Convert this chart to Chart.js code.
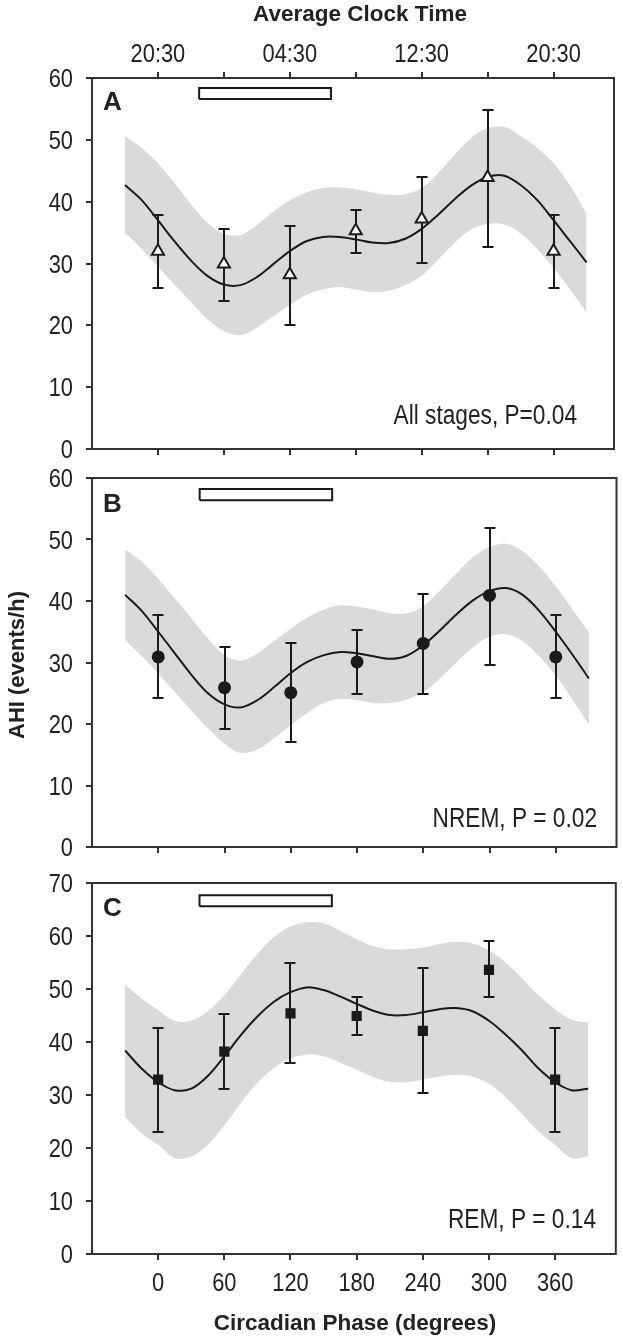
<!DOCTYPE html>
<html><head><meta charset="utf-8">
<script src="https://cdn.jsdelivr.net/npm/chart.js@4.4.1/dist/chart.umd.min.js"></script>
<style>
html,body{margin:0;padding:0;background:#fff;}
body{width:623px;height:1340px;position:relative;overflow:hidden;}
canvas{position:absolute;left:0;}
</style></head><body>
<canvas id="cA" style="top:0px"></canvas>
<canvas id="cB" style="top:460px"></canvas>
<canvas id="cC" style="top:870px"></canvas>
<script>
// ---------- data ----------
const phaseDeg = [0, 60, 120, 180, 240, 300, 360];
const phaseLabels = ['0', '60', '120', '180', '240', '300', '360'];
const clockLabels = ['20:30', '', '04:30', '', '12:30', '', '20:30'];

const allMean = [32.0, 29.9, 28.2, 35.3, 37.2, 43.9, 32.0];
const allLow  = [26.0, 23.9, 20.0, 31.7, 30.1, 32.6, 26.0];
const allHigh = [37.8, 35.6, 36.1, 38.6, 44.0, 54.8, 37.8];

const nremMean = [30.9, 25.9, 25.1, 30.1, 33.1, 40.9, 30.9];
const nremLow  = [24.2, 19.2, 17.0, 24.9, 24.9, 29.6, 24.2];
const nremHigh = [37.7, 32.5, 33.2, 35.3, 41.2, 51.9, 37.7];

const remMean = [32.9, 38.2, 45.4, 44.9, 42.1, 53.6, 32.9];
const remLow  = [23.1, 31.1, 36.0, 41.3, 30.3, 48.5, 23.1];
const remHigh = [42.7, 45.2, 55.0, 48.4, 54.0, 59.1, 42.7];

const fitPhase = [-30, -15, 0, 15, 30, 45, 60, 75, 90, 105, 120, 135, 150, 165, 180, 195, 210, 225, 240, 255, 270, 285, 300, 315, 330, 345, 360, 375, 390];

const allFit   = [42.7, 40.3, 37.0, 33.6, 30.5, 28.0, 26.6, 26.5, 27.8, 29.9, 32.0, 33.6, 34.3, 34.3, 33.9, 33.4, 33.3, 34.0, 35.6, 37.9, 40.4, 42.6, 44.0, 44.2, 42.7, 40.3, 37.0, 33.6, 30.2];
const allUpper = [50.6, 48.7, 46.2, 43.0, 39.6, 36.6, 34.8, 34.6, 36.2, 38.4, 40.2, 41.5, 42.2, 42.3, 42.0, 41.5, 41.1, 41.2, 42.2, 44.6, 47.6, 50.3, 51.9, 52.1, 50.6, 48.7, 46.2, 42.6, 38.0];
const allLower = [35.0, 32.4, 29.5, 26.6, 23.8, 21.0, 19.1, 18.4, 19.6, 21.5, 23.3, 24.9, 25.8, 26.2, 25.8, 25.4, 25.6, 26.5, 28.0, 30.6, 33.3, 35.5, 36.4, 36.3, 34.9, 32.4, 29.3, 25.8, 22.1];

const nremFit   = [41.0, 38.4, 35.0, 31.5, 28.0, 25.0, 23.2, 22.7, 23.9, 26.0, 28.3, 30.1, 31.2, 31.7, 31.5, 31.0, 30.6, 31.1, 32.8, 35.2, 37.8, 40.1, 41.6, 42.1, 41.0, 38.4, 35.0, 31.3, 27.4];
const nremUpper = [48.4, 46.4, 43.6, 40.4, 37.2, 33.9, 31.2, 30.3, 31.5, 33.5, 35.5, 37.3, 38.6, 39.3, 39.1, 38.6, 38.0, 38.0, 39.2, 41.7, 44.5, 47.1, 48.8, 49.3, 48.1, 45.6, 42.4, 38.7, 34.9];
const nremLower = [33.6, 31.0, 28.2, 25.2, 22.2, 19.3, 16.8, 15.3, 15.9, 17.7, 19.8, 21.8, 23.4, 24.1, 23.9, 23.4, 23.4, 24.0, 25.2, 27.4, 30.0, 32.5, 34.2, 34.6, 33.5, 31.0, 27.9, 24.0, 19.9];

const remFit   = [38.4, 35.0, 32.4, 30.9, 31.2, 33.6, 37.3, 41.3, 44.8, 47.6, 49.4, 50.3, 49.8, 48.6, 47.2, 45.9, 45.1, 45.1, 45.6, 46.2, 46.4, 45.8, 44.0, 41.4, 38.4, 35.0, 32.4, 30.9, 31.2];
const remUpper = [50.8, 48.2, 46.0, 44.0, 44.0, 45.8, 48.8, 52.8, 56.6, 59.8, 61.8, 62.6, 62.4, 61.0, 59.4, 58.1, 57.5, 57.5, 57.8, 58.5, 58.9, 58.6, 57.3, 55.0, 52.0, 48.8, 46.2, 44.2, 43.7];
const remLower = [25.8, 22.8, 20.6, 18.1, 18.4, 20.6, 24.3, 28.5, 32.3, 35.1, 36.9, 37.6, 37.3, 36.1, 34.8, 33.4, 32.5, 32.4, 32.9, 33.5, 33.8, 33.5, 32.1, 29.6, 26.4, 23.1, 20.6, 18.1, 18.4];

const sleepPhase = [37.5, 157.5];   // 23:00 - 07:00
const sleepBarA = [56.6, 58.4];
const sleepBarB = [56.4, 58.2];
const sleepBarC = [65.6, 67.7];

const yTicksAB = [0, 10, 20, 30, 40, 50, 60];
const yTicksC = [0, 10, 20, 30, 40, 50, 60, 70];

// ---------- style ----------
const BAND = '#d9dadc', INK = '#1a1a1a', AXIS = '#333333', TXT = '#222222';
const SANS = "'Liberation Sans',Arial,sans-serif";
const NARROW_X = 0.84;   // horizontal condensing of the narrow face

const toXY = (xs, ys) => xs.map((x, i) => ({x: x, y: ys[i]}));
const rectXY = (xr, yr) => [
  {x: xr[0], y: yr[0]}, {x: xr[1], y: yr[0]}, {x: xr[1], y: yr[1]}, {x: xr[0], y: yr[1]}, {x: xr[0], y: yr[0]}
];

function drawText(c, t) {
  c.save();
  c.fillStyle = TXT;
  c.font = t.font;
  c.textAlign = t.align || 'left';
  c.textBaseline = 'alphabetic';
  c.translate(t.x, t.y);
  if (t.rot) c.rotate(t.rot);
  if (t.sx) c.scale(t.sx, 1);
  c.fillText(t.text, 0, 0);
  c.restore();
}

const boxPlugin = {
  id: 'box',
  afterDatasetsDraw(chart) {
    const {left, top, right, bottom} = chart.chartArea;
    const c = chart.ctx;
    c.save(); c.strokeStyle = AXIS; c.lineWidth = 2;
    c.strokeRect(left, top, right - left, bottom - top);
    c.restore();
  }
};

const errorPlugin = {
  id: 'errbars',
  beforeDatasetDraw(chart, args) {
    const ds = chart.data.datasets[args.index];
    if (!ds.err) return;
    const xs = chart.scales.x, ys = chart.scales.y, c = chart.ctx;
    c.save(); c.strokeStyle = INK; c.lineWidth = 2; c.lineCap = 'butt';
    ds.err.x.forEach((xv, i) => {
      const px = Math.round(xs.getPixelForValue(xv));
      const pl = Math.round(ys.getPixelForValue(ds.err.lo[i]));
      const ph = Math.round(ys.getPixelForValue(ds.err.hi[i]));
      c.beginPath();
      c.moveTo(px, pl); c.lineTo(px, ph);
      c.moveTo(px - 5.5, ph); c.lineTo(px + 5.5, ph);
      c.moveTo(px - 5.5, pl); c.lineTo(px + 5.5, pl);
      c.stroke();
    });
    c.restore();
  }
};

// tick labels in a condensed face, placed from the chart's own scales
function tickLabelPlugin(cfg) {
  return {
    id: 'ticklabels',
    afterDraw(chart) {
      const c = chart.ctx, ys = chart.scales.y, xs = chart.scales.x;
      const f = '26px ' + SANS;
      cfg.yTicks.forEach(v => {
        drawText(c, {text: String(v), x: 73, y: ys.getPixelForValue(v) + 9, align: 'right', font: f, sx: NARROW_X});
      });
      if (cfg.top) {
        const top = chart.chartArea.top;
        phaseDeg.forEach((v, i) => {
          if (clockLabels[i]) drawText(c, {text: clockLabels[i], x: chart.scales.x2.getPixelForValue(v), y: top - 16.5, align: 'center', font: f, sx: NARROW_X});
        });
      }
      if (cfg.xLabels) {
        const bottom = chart.chartArea.bottom;
        phaseDeg.forEach((v, i) => {
          drawText(c, {text: phaseLabels[i], x: xs.getPixelForValue(v), y: bottom + 37, align: 'center', font: f, sx: NARROW_X});
        });
      }
    }
  };
}

function textPlugin(items) {
  return {
    id: 'texts',
    afterDraw(chart) { items.forEach(t => drawText(chart.ctx, t)); }
  };
}

function gridOpts() {
  return {display: true, drawOnChartArea: false, drawTicks: true, tickLength: 6, color: AXIS, lineWidth: 2};
}

function makePanel(id, h, cfg) {
  const el = document.getElementById(id);
  el.width = 623; el.height = h;
  el.style.width = '623px'; el.style.height = h + 'px';
  const scales = {
    x: {
      type: 'linear', min: -60, max: 415, position: 'bottom',
      afterBuildTicks: s => { s.ticks = phaseDeg.map(v => ({value: v})); },
      afterFit: s => { s.height = cfg.xHeight; },
      grid: gridOpts(), border: {display: false},
      ticks: {display: false}
    },
    y: {
      type: 'linear', min: 0, max: cfg.yMax, position: 'left',
      afterBuildTicks: s => { s.ticks = cfg.yTicks.map(v => ({value: v})); },
      afterFit: s => { s.width = 92; },
      grid: gridOpts(), border: {display: false},
      ticks: {display: false}
    }
  };
  if (cfg.top) {
    scales.x2 = {
      type: 'linear', min: -60, max: 415, position: 'top',
      afterBuildTicks: s => { s.ticks = phaseDeg.map(v => ({value: v})); },
      afterFit: s => { s.height = 78; },
      grid: gridOpts(), border: {display: false},
      ticks: {display: false}
    };
  }
  const datasets = [
    {data: toXY(fitPhase, cfg.upper), borderWidth: 0, pointRadius: 0, tension: 0.35,
     fill: '+1', backgroundColor: BAND, order: 5},
    {data: toXY(fitPhase, cfg.lower), borderWidth: 0, pointRadius: 0, tension: 0.35,
     fill: false, order: 5},
    {data: toXY(fitPhase, cfg.fit), borderColor: INK, borderWidth: 2, pointRadius: 0,
     tension: 0.35, fill: false, order: 3},
    {data: rectXY(sleepPhase, cfg.sleep), borderColor: INK, borderWidth: 2, pointRadius: 0,
     tension: 0, fill: false, order: 2, borderJoinStyle: 'miter'},
    {data: toXY(phaseDeg, cfg.mean), showLine: false, order: 1,
     pointStyle: cfg.marker.style, pointRadius: cfg.marker.r,
     pointBackgroundColor: cfg.marker.fill, pointBorderColor: INK, pointBorderWidth: cfg.marker.bw,
     err: {x: phaseDeg, lo: cfg.low, hi: cfg.high}}
  ];
  return new Chart(el, {
    type: 'line',
    data: {datasets: datasets},
    options: {
      responsive: false, animation: false, devicePixelRatio: 1,
      layout: {padding: {top: cfg.padTop, right: 4, left: 0, bottom: 0}},
      plugins: {legend: {display: false}, tooltip: {enabled: false}},
      scales: scales
    },
    plugins: [boxPlugin, errorPlugin, tickLabelPlugin(cfg), textPlugin(cfg.texts)]
  });
}

makePanel('cA', 470, {
  top: true, padTop: 0, xHeight: 21, xLabels: false, yMax: 60, yTicks: yTicksAB,
  fit: allFit, upper: allUpper, lower: allLower, sleep: sleepBarA,
  mean: allMean, low: allLow, high: allHigh,
  marker: {style: 'triangle', r: 7, fill: '#ffffff', bw: 2},
  texts: [
    {text: 'Average Clock Time', x: 360, y: 21, align: 'center', font: 'bold 22.5px ' + SANS},
    {text: 'A', x: 103, y: 110, font: 'bold 26px ' + SANS},
    {text: 'All stages, P=0.04', x: 577, y: 424, align: 'right', font: '27px ' + SANS, sx: NARROW_X}
  ]
});

makePanel('cB', 410, {
  top: false, padTop: 18, xHeight: 23, xLabels: false, yMax: 60, yTicks: yTicksAB,
  fit: nremFit, upper: nremUpper, lower: nremLower, sleep: sleepBarB,
  mean: nremMean, low: nremLow, high: nremHigh,
  marker: {style: 'circle', r: 6.5, fill: INK, bw: 0},
  texts: [
    {text: 'B', x: 103, y: 512 - 460, font: 'bold 26px ' + SANS},
    {text: 'NREM, P = 0.02', x: 597, y: 827 - 460, align: 'right', font: '27px ' + SANS, sx: NARROW_X},
    {text: 'AHI (events/h)', x: 23.5, y: 665 - 460, align: 'center', rot: -Math.PI / 2, font: 'bold 22px ' + SANS}
  ]
});

makePanel('cC', 470, {
  top: false, padTop: 13, xHeight: 86, xLabels: true, yMax: 70, yTicks: yTicksC,
  fit: remFit, upper: remUpper, lower: remLower, sleep: sleepBarC,
  mean: remMean, low: remLow, high: remHigh,
  marker: {style: 'rect', r: 7.2, fill: INK, bw: 0},
  texts: [
    {text: 'C', x: 103, y: 916 - 870, font: 'bold 26px ' + SANS},
    {text: 'REM, P = 0.14', x: 596, y: 1228 - 870, align: 'right', font: '27px ' + SANS, sx: NARROW_X},
    {text: 'Circadian Phase (degrees)', x: 355, y: 1330 - 870, align: 'center', font: 'bold 22.5px ' + SANS}
  ]
});
</script></body></html>
